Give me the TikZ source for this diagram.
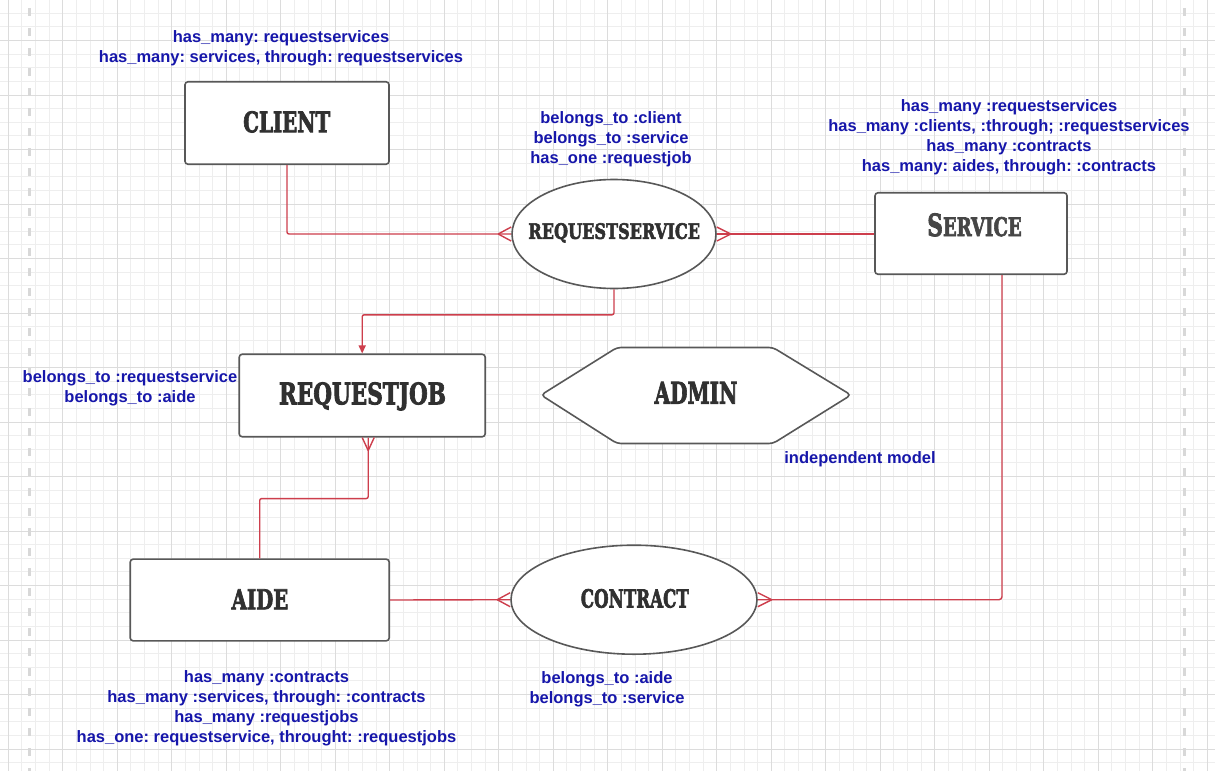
\documentclass[tikz,border=0pt]{standalone}
\usepackage{fontspec}
\setmainfont{Liberation Sans}
\newfontfamily\headfont{DejaVu Serif}[BoldFeatures={FakeBold=3}]
\usetikzlibrary{shapes.geometric,arrows.meta}
\definecolor{relred}{RGB}{205,62,76}
\definecolor{lblblue}{RGB}{22,22,170}
\definecolor{boxgray}{RGB}{88,88,88}
\definecolor{titlegray}{RGB}{48,48,48}
\definecolor{svgray}{RGB}{70,70,70}
\definecolor{gridminor}{RGB}{238,238,238}
\definecolor{gridmajor}{RGB}{220,220,220}
\definecolor{dashgray}{RGB}{216,216,216}
\newcommand{\ttl}[3]{\resizebox{#1pt}{#2pt}{\headfont\bfseries #3}}
\frenchspacing
\begin{document}
\begin{tikzpicture}[x=1pt,y=-1pt,
  entity/.style={draw=boxgray, line width=1.6pt, fill=white, rounded corners=3pt, inner sep=0pt},
  relbubble/.style={ellipse, draw=boxgray, line width=1.6pt, fill=white, inner sep=0pt},
  ttlnode/.style={text=titlegray, inner sep=0pt, text depth=0pt},
  lbl/.style={text=lblblue, font=\fontsize{16.5}{20}\selectfont\bfseries, align=center, inner sep=0pt, yshift=-2pt},
  rel/.style={draw=relred, line width=1.4pt},
  minorline/.style={draw=gridminor, line width=0.8pt},
  majorline/.style={draw=gridmajor, line width=1pt},
  pageedge/.style={draw=dashgray, line width=3pt, dash pattern=on 8pt off 12pt, dash phase=12pt}
]
\useasboundingbox (0,0) rectangle (1215,771);
\clip (0,0) rectangle (1215,771);
\fill[white] (0,0) rectangle (1215,771);
% grid
\foreach \i in {0,...,90} \draw[minorline] ({-5.425+13.625*\i},0) -- ({-5.425+13.625*\i},771);
\foreach \j in {-1,...,57} \draw[minorline] (0,{13.25+13.625*\j}) -- (1215,{13.25+13.625*\j});
\foreach \k in {0,...,22} \draw[majorline] ({8.2+54.5*\k},0) -- ({8.2+54.5*\k},771);
\foreach \k in {-1,...,14} \draw[majorline] (0,{40.5+54.5*\k}) -- (1215,{40.5+54.5*\k});
\draw[pageedge] (29.5,0) -- (29.5,771);
\draw[pageedge] (1184.5,0) -- (1184.5,771);

% entities
\node[entity, minimum width=204pt, minimum height=82.5pt] (client) at (287,123) {};
\node[relbubble, minimum width=204pt, minimum height=109pt] (rs) at (614,234) {};
\node[entity, minimum width=192pt, minimum height=81.5pt] (sv) at (971,233.5) {};
\node[entity, minimum width=246pt, minimum height=82.5pt] (rj) at (362.2,395.5) {};
\node[entity, minimum width=259pt, minimum height=81.7pt] (aide) at (259.7,600) {};
\node[relbubble, minimum width=246pt, minimum height=109pt] (ct) at (634,599.7) {};
\draw[boxgray, line width=1.6pt, fill=white, rounded corners=4pt] (695,347.5) -- (773,347.5) -- (851,395) -- (773,443.5) -- (617,443.5) -- (541,395) -- (617,347.5) -- cycle;

% titles
\node[ttlnode] (clientT) at (286.7,121.7) {\ttl{87}{21}{CLIENT}};
\node[ttlnode] (rsT) at (614.2,231) {\ttl{171.7}{15.7}{REQUESTSERVICE}};
\node[ttlnode, text=svgray] (svT) at (974.5,224.7) {\resizebox{94.3pt}{22.7pt}{\headfont\bfseries{\fontsize{10}{10}\selectfont S}{\fontsize{8.37}{10}\selectfont ERVICE}}};
\node[ttlnode] (rjT) at (362.5,393.3) {\ttl{167}{22}{REQUESTJOB}};
\node[ttlnode] (adminT) at (696,392.7) {\ttl{82.7}{21.7}{ADMIN}};
\node[ttlnode] (aideT) at (260,599.3) {\ttl{56.7}{20}{AIDE}};
\node[ttlnode] (ctT) at (634.8,598.3) {\ttl{108}{18.5}{CONTRACT}};

% labels
\node[lbl] (clientL) at (281,46) {has\_many: requestservices\\has\_many: services, through: requestservices};
\node[lbl] (rsL) at (611,137.7) {belongs\_to :client\\belongs\_to :service\\has\_one :requestjob};
\node[lbl] (svL) at (1009,135.7) {has\_many :requestservices\\has\_many :clients, :through; :requestservices\\has\_many :contracts\\has\_many: aides, through: :contracts};
\node[lbl] (rjL) at (130,386) {belongs\_to :requestservice\\belongs\_to :aide};
\node[lbl] (adminL) at (860,457) {independent model};
\node[lbl] (aideL) at (266.5,706.5) {has\_many :contracts\\has\_many :services, through: :contracts\\has\_many :requestjobs\\has\_one: requestservice, throught: :requestjobs};
\node[lbl] (ctL) at (607,687) {belongs\_to :aide\\belongs\_to :service};

% connectors
\draw[rel, rounded corners=2pt] (client.south) |- (rs.west);
\draw[rel] (rs.west) ++(-13,0) -- ++(13,-7) ++(-13,7) -- ++(13,7);
\draw[rel] (rs.east) -- (rs.east -| sv.west);
\draw[rel] (rs.east) ++(14,0) -- ++(-14,-7) ++(14,7) -- ++(-14,7);
\draw[rel, rounded corners=2pt, -{Triangle[length=8pt,width=7pt]}] (rs.south) -- ++(0,25.5) -| (rj.north);
\draw[rel, rounded corners=2pt] ([xshift=6pt]rj.south) -- ++(0,61) -| (aide.north);
\draw[rel] ([xshift=6pt]rj.south) ++(0,13) -- ++(-6,-13) ++(6,13) -- ++(6,-13);
\draw[rel] (aide.east) -- (ct.west);
\draw[rel] (ct.west) ++(-13,0) -- ++(13,-7) ++(-13,7) -- ++(13,7);
\draw[rel, rounded corners=3pt] ([xshift=31pt]sv.south) |- (ct.east);
\draw[rel] (ct.east) ++(14,0) -- ++(-14,-7) ++(14,7) -- ++(-14,7);
\end{tikzpicture}
\end{document}
